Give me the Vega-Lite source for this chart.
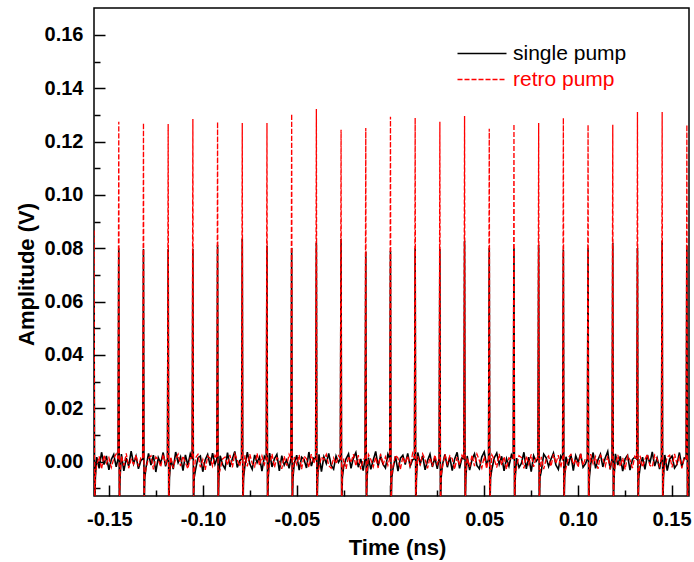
{
"$schema": "https://vega.github.io/schema/vega-lite/v6.json",
"width": 595, "height": 488,
"autosize": {"type": "none"},
"padding": {"left": 94, "top": 8, "right": 5, "bottom": 66},
"background": "white",
"config": {
 "view": {"stroke": "#000000", "strokeWidth": 1.5},
 "font": "Liberation Sans",
 "axis": {"domain": false, "grid": false, "tickColor": "#000000", "tickWidth": 1.5, "labelFont": "Liberation Sans", "labelFontSize": 20, "labelFontWeight": "bold", "labelColor": "#000000", "titleFont": "Liberation Sans", "titleFontSize": 22, "titleFontWeight": "bold", "titleColor": "#000000", "labelOverlap": false, "labelFlush": false}
},
"resolve": {"axis": {"y": "independent"}},
"data": {"values": [
{"t":-0.1592,"b":-0.0014,"r":0.0011},
{"t":-0.1586,"b":0.0010,"r":0.0012},
{"t":-0.15816,"b":0.06,"r":0.087},
{"t":-0.15786,"b":-0.02,"r":-0.02},
{"t":-0.15746,"b":-0.006,"r":-0.005},
{"t":-0.15676,"b":0.0017,"r":-0.0013},
{"t":-0.15546,"b":-0.0025,"r":0.0020},
{"t":-0.15416,"b":0.0035,"r":-0.0028},
{"t":-0.15286,"b":-0.0011,"r":0.0024},
{"t":-0.15156,"b":0.0021,"r":-0.0007},
{"t":-0.15026,"b":-0.0031,"r":0.0015},
{"t":-0.14896,"b":0.0008,"r":-0.0022},
{"t":-0.14766,"b":0.0027,"r":0.0011},
{"t":-0.14636,"b":-0.0020,"r":0.0029},
{"t":-0.14538,"b":0.0010,"r":0.0012},
{"t":-0.14498,"b":0.0800,"r":0.1274},
{"t":-0.14468,"b":-0.02,"r":-0.02},
{"t":-0.14428,"b":-0.006,"r":-0.005},
{"t":-0.14358,"b":0.0028,"r":0.0021},
{"t":-0.14228,"b":-0.0035,"r":-0.0015},
{"t":-0.14098,"b":0.0013,"r":0.0031},
{"t":-0.13968,"b":-0.0017,"r":-0.0025},
{"t":-0.13838,"b":0.0039,"r":0.0008},
{"t":-0.13708,"b":-0.0008,"r":-0.0010},
{"t":-0.13578,"b":0.0020,"r":0.0025},
{"t":-0.13448,"b":-0.0027,"r":-0.0018},
{"t":-0.13318,"b":0.0004,"r":0.0014},
{"t":-0.13220,"b":0.0010,"r":0.0012},
{"t":-0.13180,"b":0.0797,"r":0.1270},
{"t":-0.13150,"b":-0.02,"r":-0.02},
{"t":-0.13110,"b":-0.006,"r":-0.005},
{"t":-0.13040,"b":-0.0021,"r":-0.0025},
{"t":-0.12910,"b":0.0031,"r":0.0013},
{"t":-0.12780,"b":-0.0013,"r":0.0022},
{"t":-0.12650,"b":0.0024,"r":-0.0029},
{"t":-0.12520,"b":-0.0039,"r":0.0017},
{"t":-0.12390,"b":0.0015,"r":0.0006},
{"t":-0.12260,"b":-0.0006,"r":-0.0020},
{"t":-0.12130,"b":0.0034,"r":0.0027},
{"t":-0.12000,"b":-0.0018,"r":-0.0008},
{"t":-0.11902,"b":0.0010,"r":0.0012},
{"t":-0.11862,"b":0.0797,"r":0.1266},
{"t":-0.11832,"b":-0.02,"r":-0.02},
{"t":-0.11792,"b":-0.006,"r":-0.005},
{"t":-0.11722,"b":0.0010,"r":0.0018},
{"t":-0.11592,"b":-0.0028,"r":-0.0024},
{"t":-0.11462,"b":0.0036,"r":0.0011},
{"t":-0.11332,"b":-0.0004,"r":0.0028},
{"t":-0.11202,"b":0.0018,"r":-0.0017},
{"t":-0.11072,"b":-0.0034,"r":0.0021},
{"t":-0.10942,"b":0.0025,"r":-0.0004},
{"t":-0.10812,"b":-0.0014,"r":-0.0027},
{"t":-0.10682,"b":0.0029,"r":0.0015},
{"t":-0.10584,"b":0.0010,"r":0.0012},
{"t":-0.10544,"b":0.0797,"r":0.1285},
{"t":-0.10514,"b":-0.02,"r":-0.02},
{"t":-0.10474,"b":-0.006,"r":-0.005},
{"t":-0.10404,"b":-0.0031,"r":0.0014},
{"t":-0.10274,"b":0.0014,"r":0.0027},
{"t":-0.10144,"b":0.0021,"r":-0.0021},
{"t":-0.10014,"b":-0.0038,"r":0.0008},
{"t":-0.09884,"b":0.0007,"r":-0.0031},
{"t":-0.09754,"b":0.0027,"r":0.0020},
{"t":-0.09624,"b":-0.0015,"r":0.0013},
{"t":-0.09494,"b":0.0032,"r":-0.0017},
{"t":-0.09364,"b":-0.0010,"r":0.0024},
{"t":-0.09266,"b":0.0010,"r":0.0012},
{"t":-0.09226,"b":0.0812,"r":0.1274},
{"t":-0.09196,"b":-0.02,"r":-0.02},
{"t":-0.09156,"b":-0.006,"r":-0.005},
{"t":-0.09086,"b":0.0022,"r":-0.0028},
{"t":-0.08956,"b":-0.0011,"r":0.0010},
{"t":-0.08826,"b":-0.0027,"r":0.0017},
{"t":-0.08696,"b":0.0034,"r":-0.0013},
{"t":-0.08566,"b":-0.0020,"r":0.0025},
{"t":-0.08436,"b":0.0011,"r":-0.0022},
{"t":-0.08306,"b":0.0038,"r":0.0029},
{"t":-0.08176,"b":-0.0022,"r":0.0006},
{"t":-0.08046,"b":0.0003,"r":-0.0018},
{"t":-0.07948,"b":0.0010,"r":0.0012},
{"t":-0.07908,"b":0.0835,"r":0.1270},
{"t":-0.07878,"b":-0.02,"r":-0.02},
{"t":-0.07838,"b":-0.006,"r":-0.005},
{"t":-0.07768,"b":-0.0015,"r":0.0024},
{"t":-0.07638,"b":0.0035,"r":-0.0018},
{"t":-0.07508,"b":-0.0008,"r":0.0028},
{"t":-0.07378,"b":-0.0029,"r":-0.0007},
{"t":-0.07248,"b":0.0025,"r":-0.0020},
{"t":-0.07118,"b":-0.0004,"r":0.0031},
{"t":-0.06988,"b":0.0017,"r":-0.0014},
{"t":-0.06858,"b":-0.0036,"r":0.0021},
{"t":-0.06728,"b":0.0020,"r":-0.0011},
{"t":-0.06630,"b":0.0010,"r":0.0012},
{"t":-0.06590,"b":0.0809,"r":0.1270},
{"t":-0.06560,"b":-0.02,"r":-0.02},
{"t":-0.06520,"b":-0.006,"r":-0.005},
{"t":-0.06450,"b":0.0032,"r":-0.0010},
{"t":-0.06320,"b":-0.0020,"r":0.0029},
{"t":-0.06190,"b":0.0011,"r":-0.0022},
{"t":-0.06060,"b":0.0027,"r":0.0015},
{"t":-0.05930,"b":-0.0035,"r":0.0004},
{"t":-0.05800,"b":0.0022,"r":-0.0027},
{"t":-0.05670,"b":-0.0013,"r":0.0020},
{"t":-0.05540,"b":0.0006,"r":-0.0015},
{"t":-0.05410,"b":-0.0025,"r":0.0027},
{"t":-0.05312,"b":0.0010,"r":0.0012},
{"t":-0.05272,"b":0.0801,"r":0.1304},
{"t":-0.05242,"b":-0.02,"r":-0.02},
{"t":-0.05202,"b":-0.006,"r":-0.005},
{"t":-0.05132,"b":-0.0006,"r":0.0017},
{"t":-0.05002,"b":0.0024,"r":-0.0011},
{"t":-0.04872,"b":-0.0032,"r":0.0025},
{"t":-0.04742,"b":0.0017,"r":-0.0028},
{"t":-0.04612,"b":0.0008,"r":0.0021},
{"t":-0.04482,"b":-0.0024,"r":0.0010},
{"t":-0.04352,"b":0.0036,"r":-0.0021},
{"t":-0.04222,"b":-0.0017,"r":0.0028},
{"t":-0.04092,"b":0.0013,"r":-0.0006},
{"t":-0.03994,"b":0.0010,"r":0.0012},
{"t":-0.03954,"b":0.0820,"r":0.1322},
{"t":-0.03924,"b":-0.02,"r":-0.02},
{"t":-0.03884,"b":-0.006,"r":-0.005},
{"t":-0.03814,"b":0.0027,"r":-0.0022},
{"t":-0.03684,"b":-0.0038,"r":0.0018},
{"t":-0.03554,"b":0.0018,"r":0.0007},
{"t":-0.03424,"b":-0.0007,"r":0.0027},
{"t":-0.03294,"b":0.0031,"r":-0.0015},
{"t":-0.03164,"b":-0.0014,"r":-0.0025},
{"t":-0.03034,"b":-0.0028,"r":0.0014},
{"t":-0.02904,"b":0.0021,"r":-0.0008},
{"t":-0.02774,"b":-0.0003,"r":0.0022},
{"t":-0.02676,"b":0.0010,"r":0.0012},
{"t":-0.02636,"b":0.0835,"r":0.1244},
{"t":-0.02606,"b":-0.02,"r":-0.02},
{"t":-0.02566,"b":-0.006,"r":-0.005},
{"t":-0.02496,"b":-0.0018,"r":0.0011},
{"t":-0.02366,"b":0.0011,"r":-0.0027},
{"t":-0.02236,"b":0.0029,"r":0.0020},
{"t":-0.02106,"b":-0.0025,"r":-0.0004},
{"t":-0.01976,"b":0.0014,"r":0.0028},
{"t":-0.01846,"b":0.0034,"r":-0.0017},
{"t":-0.01716,"b":-0.0021,"r":0.0024},
{"t":-0.01586,"b":0.0010,"r":-0.0029},
{"t":-0.01456,"b":-0.0034,"r":0.0008},
{"t":-0.01358,"b":0.0010,"r":0.0012},
{"t":-0.01318,"b":0.0786,"r":0.1251},
{"t":-0.01288,"b":-0.02,"r":-0.02},
{"t":-0.01248,"b":-0.006,"r":-0.005},
{"t":-0.01178,"b":0.0015,"r":0.0027},
{"t":-0.01048,"b":-0.0029,"r":0.0008},
{"t":-0.00918,"b":0.0006,"r":-0.0020},
{"t":-0.00788,"b":0.0038,"r":0.0017},
{"t":-0.00658,"b":-0.0017,"r":-0.0024},
{"t":-0.00528,"b":0.0021,"r":0.0029},
{"t":-0.00398,"b":-0.0010,"r":-0.0013},
{"t":-0.00268,"b":-0.0024,"r":0.0018},
{"t":-0.00138,"b":0.0028,"r":-0.0014},
{"t":-0.00040,"b":0.0010,"r":0.0012},
{"t":0,"b":0.0790,"r":0.1293},
{"t":0.00030,"b":-0.02,"r":-0.02},
{"t":0.00070,"b":-0.006,"r":-0.005},
{"t":0.00140,"b":-0.0025,"r":-0.0015},
{"t":0.00270,"b":0.0020,"r":0.0024},
{"t":0.00400,"b":-0.0036,"r":0.0013},
{"t":0.00530,"b":0.0013,"r":-0.0028},
{"t":0.00660,"b":0.0024,"r":0.0018},
{"t":0.00790,"b":-0.0011,"r":-0.0006},
{"t":0.00920,"b":0.0031,"r":0.0022},
{"t":0.01050,"b":-0.0018,"r":-0.0021},
{"t":0.01180,"b":0.0007,"r":0.0031},
{"t":0.01278,"b":0.0010,"r":0.0012},
{"t":0.01318,"b":0.0801,"r":0.1289},
{"t":0.01348,"b":-0.02,"r":-0.02},
{"t":0.01388,"b":-0.006,"r":-0.005},
{"t":0.01458,"b":0.0034,"r":0.0020},
{"t":0.01588,"b":-0.0008,"r":-0.0014},
{"t":0.01718,"b":0.0022,"r":0.0029},
{"t":0.01848,"b":-0.0031,"r":0.0007},
{"t":0.01978,"b":0.0004,"r":-0.0025},
{"t":0.02108,"b":0.0028,"r":0.0015},
{"t":0.02238,"b":-0.0020,"r":-0.0018},
{"t":0.02368,"b":0.0015,"r":0.0025},
{"t":0.02498,"b":-0.0027,"r":-0.0010},
{"t":0.02596,"b":0.0010,"r":0.0012},
{"t":0.02636,"b":0.0797,"r":0.1274},
{"t":0.02666,"b":-0.02,"r":-0.02},
{"t":0.02706,"b":-0.006,"r":-0.005},
{"t":0.02776,"b":-0.0011,"r":-0.0021},
{"t":0.02906,"b":0.0027,"r":0.0028},
{"t":0.03036,"b":-0.0021,"r":-0.0008},
{"t":0.03166,"b":0.0017,"r":0.0022},
{"t":0.03296,"b":-0.0034,"r":0.0011},
{"t":0.03426,"b":0.0010,"r":-0.0029},
{"t":0.03556,"b":0.0035,"r":0.0017},
{"t":0.03686,"b":-0.0025,"r":-0.0013},
{"t":0.03816,"b":0.0014,"r":0.0024},
{"t":0.03914,"b":0.0010,"r":0.0012},
{"t":0.03954,"b":0.0828,"r":0.1296},
{"t":0.03984,"b":-0.02,"r":-0.02},
{"t":0.04024,"b":-0.006,"r":-0.005},
{"t":0.04094,"b":0.0021,"r":0.0013},
{"t":0.04224,"b":-0.0032,"r":-0.0020},
{"t":0.04354,"b":0.0008,"r":0.0025},
{"t":0.04484,"b":0.0029,"r":-0.0017},
{"t":0.04614,"b":-0.0015,"r":0.0028},
{"t":0.04744,"b":-0.0027,"r":0.0004},
{"t":0.04874,"b":0.0018,"r":-0.0024},
{"t":0.05004,"b":0.0036,"r":0.0020},
{"t":0.05134,"b":-0.0013,"r":-0.0027},
{"t":0.05232,"b":0.0010,"r":0.0012},
{"t":0.05272,"b":0.0801,"r":0.1248},
{"t":0.05302,"b":-0.02,"r":-0.02},
{"t":0.05342,"b":-0.006,"r":-0.005},
{"t":0.05412,"b":-0.0028,"r":0.0025},
{"t":0.05542,"b":0.0015,"r":0.0007},
{"t":0.05672,"b":0.0032,"r":-0.0022},
{"t":0.05802,"b":-0.0010,"r":0.0029},
{"t":0.05932,"b":0.0020,"r":-0.0013},
{"t":0.06062,"b":-0.0035,"r":0.0018},
{"t":0.06192,"b":0.0011,"r":-0.0028},
{"t":0.06322,"b":-0.0017,"r":0.0014},
{"t":0.06452,"b":0.0025,"r":0.0008},
{"t":0.06550,"b":0.0010,"r":0.0012},
{"t":0.06590,"b":0.0801,"r":0.1266},
{"t":0.06620,"b":-0.02,"r":-0.02},
{"t":0.06660,"b":-0.006,"r":-0.005},
{"t":0.06730,"b":0.0013,"r":-0.0017},
{"t":0.06860,"b":-0.0022,"r":0.0022},
{"t":0.06990,"b":-0.0006,"r":0.0015},
{"t":0.07120,"b":0.0035,"r":-0.0025},
{"t":0.07250,"b":-0.0027,"r":0.0020},
{"t":0.07380,"b":0.0017,"r":-0.0010},
{"t":0.07510,"b":-0.0038,"r":0.0027},
{"t":0.07640,"b":0.0022,"r":-0.0020},
{"t":0.07770,"b":0.0001,"r":0.0017},
{"t":0.07868,"b":0.0010,"r":0.0012},
{"t":0.07908,"b":0.0812,"r":0.1270},
{"t":0.07938,"b":-0.02,"r":-0.02},
{"t":0.07978,"b":-0.006,"r":-0.005},
{"t":0.08048,"b":-0.0035,"r":0.0018},
{"t":0.08178,"b":0.0028,"r":-0.0028},
{"t":0.08308,"b":0.0014,"r":0.0010},
{"t":0.08438,"b":-0.0018,"r":0.0021},
{"t":0.08568,"b":0.0010,"r":-0.0018},
{"t":0.08698,"b":0.0032,"r":0.0028},
{"t":0.08828,"b":-0.0013,"r":-0.0007},
{"t":0.08958,"b":-0.0029,"r":0.0024},
{"t":0.09088,"b":0.0021,"r":-0.0022},
{"t":0.09186,"b":0.0010,"r":0.0012},
{"t":0.09226,"b":0.0794,"r":0.1289},
{"t":0.09256,"b":-0.02,"r":-0.02},
{"t":0.09296,"b":-0.006,"r":-0.005},
{"t":0.09366,"b":0.0018,"r":-0.0024},
{"t":0.09496,"b":-0.0015,"r":0.0015},
{"t":0.09626,"b":0.0027,"r":0.0027},
{"t":0.09756,"b":-0.0034,"r":-0.0011},
{"t":0.09886,"b":0.0022,"r":0.0008},
{"t":0.10016,"b":-0.0003,"r":-0.0021},
{"t":0.10146,"b":0.0029,"r":0.0031},
{"t":0.10276,"b":-0.0021,"r":-0.0015},
{"t":0.10406,"b":-0.0008,"r":0.0013},
{"t":0.10504,"b":0.0010,"r":0.0012},
{"t":0.10544,"b":0.0801,"r":0.1263},
{"t":0.10574,"b":-0.02,"r":-0.02},
{"t":0.10614,"b":-0.006,"r":-0.005},
{"t":0.10684,"b":-0.0010,"r":0.0028},
{"t":0.10814,"b":0.0034,"r":-0.0008},
{"t":0.10944,"b":-0.0025,"r":0.0018},
{"t":0.11074,"b":0.0007,"r":-0.0027},
{"t":0.11204,"b":0.0028,"r":0.0024},
{"t":0.11334,"b":-0.0020,"r":0.0011},
{"t":0.11464,"b":0.0015,"r":-0.0017},
{"t":0.11594,"b":0.0038,"r":0.0021},
{"t":0.11724,"b":-0.0029,"r":-0.0028},
{"t":0.11822,"b":0.0010,"r":0.0012},
{"t":0.11862,"b":0.0820,"r":0.1263},
{"t":0.11892,"b":-0.02,"r":-0.02},
{"t":0.11932,"b":-0.006,"r":-0.005},
{"t":0.12002,"b":0.0029,"r":-0.0011},
{"t":0.12132,"b":-0.0013,"r":0.0025},
{"t":0.12262,"b":0.0020,"r":-0.0018},
{"t":0.12392,"b":-0.0036,"r":0.0014},
{"t":0.12522,"b":0.0011,"r":-0.0029},
{"t":0.12652,"b":0.0024,"r":0.0022},
{"t":0.12782,"b":-0.0032,"r":0.0006},
{"t":0.12912,"b":0.0008,"r":-0.0024},
{"t":0.13042,"b":0.0017,"r":0.0020},
{"t":0.13140,"b":0.0010,"r":0.0012},
{"t":0.13180,"b":0.0801,"r":0.1311},
{"t":0.13210,"b":-0.02,"r":-0.02},
{"t":0.13250,"b":-0.006,"r":-0.005},
{"t":0.13320,"b":-0.0022,"r":0.0022},
{"t":0.13450,"b":0.0017,"r":-0.0021},
{"t":0.13580,"b":-0.0029,"r":0.0008},
{"t":0.13710,"b":0.0025,"r":0.0028},
{"t":0.13840,"b":-0.0007,"r":-0.0014},
{"t":0.13970,"b":0.0036,"r":-0.0020},
{"t":0.14100,"b":-0.0017,"r":0.0025},
{"t":0.14230,"b":0.0013,"r":0.0010},
{"t":0.14360,"b":-0.0028,"r":-0.0017},
{"t":0.14458,"b":0.0010,"r":0.0012},
{"t":0.14498,"b":0.0828,"r":0.1311},
{"t":0.14528,"b":-0.02,"r":-0.02},
{"t":0.14568,"b":-0.006,"r":-0.005},
{"t":0.14638,"b":0.0025,"r":-0.0018},
{"t":0.14768,"b":-0.0034,"r":0.0017},
{"t":0.14898,"b":0.0010,"r":0.0024},
{"t":0.15028,"b":0.0021,"r":-0.0022},
{"t":0.15158,"b":-0.0024,"r":0.0029},
{"t":0.15288,"b":-0.0011,"r":-0.0008},
{"t":0.15418,"b":0.0034,"r":0.0018},
{"t":0.15548,"b":-0.0020,"r":-0.0025},
{"t":0.15678,"b":0.0014,"r":0.0015},
{"t":0.15776,"b":0.0010,"r":0.0012},
{"t":0.15816,"b":0.0809,"r":0.1263},
{"t":0.15846,"b":-0.02,"r":-0.02},
{"t":0.15886,"b":-0.006,"r":-0.005},
{"t":0.15956,"b":-0.0017,"r":0.0014},
{"t":0.16086,"b":0.0022,"r":-0.0020}
]},
"layer": [
 {
  "mark": {"type": "line", "clip": true, "strokeWidth": 1.6},
  "encoding": {
   "x": {"field": "t", "type": "quantitative", "title": "Time (ns)",
     "scale": {"domain": [-0.1582, 0.1593], "nice": false, "zero": false},
     "axis": {"values": [-0.15,-0.125,-0.1,-0.075,-0.05,-0.025,0,0.025,0.05,0.075,0.1,0.125,0.15],
       "labelExpr": "abs(round(datum.value*1000)) % 50 == 0 ? replace(format(datum.value, '.2f'), '\u2212', '-') : ''",
       "tickSize": {"condition": {"test": "abs(round(datum.value*1000)) % 50 == 0", "value": -11}, "value": -6},
       "labelPadding": 24, "titleX": 303, "titleY": 41, "titleAlign": "center", "titleBaseline": "top"}},
   "y": {"field": "b", "type": "quantitative", "title": "Amplitude (V)",
     "scale": {"domain": [-0.0129, 0.1701], "nice": false, "zero": false},
     "axis": {"orient": "left", "values": [0,0.02,0.04,0.06,0.08,0.1,0.12,0.14,0.16], "format": ".2f",
       "tickSize": -11, "labelPadding": 22,
       "titleX": -61, "titleY": 266, "titleAngle": 270, "titleAlign": "center", "titleBaseline": "alphabetic"}},
   "color": {"datum": "single pump", "scale": {"domain": ["single pump", "retro pump"], "range": ["#000000", "#ff0000"]},
     "legend": {"title": null, "orient": "none", "legendX": 377.5, "legendY": 35, "padding": 0, "rowPadding": 4, "labelOffset": 20.5,
       "labelFont": "Liberation Sans", "labelFontSize": 21, "labelFontWeight": "normal",
       "labelColor": {"expr": "datum.label == 'retro pump' ? '#ff0000' : '#000000'"},
       "symbolType": "M-4.9,0H4.9", "symbolSize": 100, "symbolStrokeWidth": 1.5}},
   "strokeDash": {"datum": "single pump", "scale": {"domain": ["single pump", "retro pump"], "range": [[1, 0], [5, 2]]},
     "legend": {"title": null, "orient": "none", "legendX": 377.5, "legendY": 35, "padding": 0, "rowPadding": 4, "labelOffset": 20.5,
       "labelFont": "Liberation Sans", "labelFontSize": 21, "labelFontWeight": "normal",
       "labelColor": {"expr": "datum.label == 'retro pump' ? '#ff0000' : '#000000'"},
       "symbolType": "M-4.9,0H4.9", "symbolSize": 100, "symbolStrokeWidth": 1.5}}
  }
 },
 {
  "mark": {"type": "line", "clip": true, "strokeWidth": 1.3},
  "encoding": {
   "x": {"field": "t", "type": "quantitative", "title": "Time (ns)"},
   "y": {"field": "r", "type": "quantitative",
     "axis": {"orient": "right", "offset": -595, "values": [-0.01,0.01,0.03,0.05,0.07,0.09,0.11,0.13,0.15], "tickSize": 6, "labels": false, "title": null, "domain": false}},
   "color": {"datum": "retro pump"},
   "strokeDash": {"datum": "retro pump"}
  }
 }
]
}
